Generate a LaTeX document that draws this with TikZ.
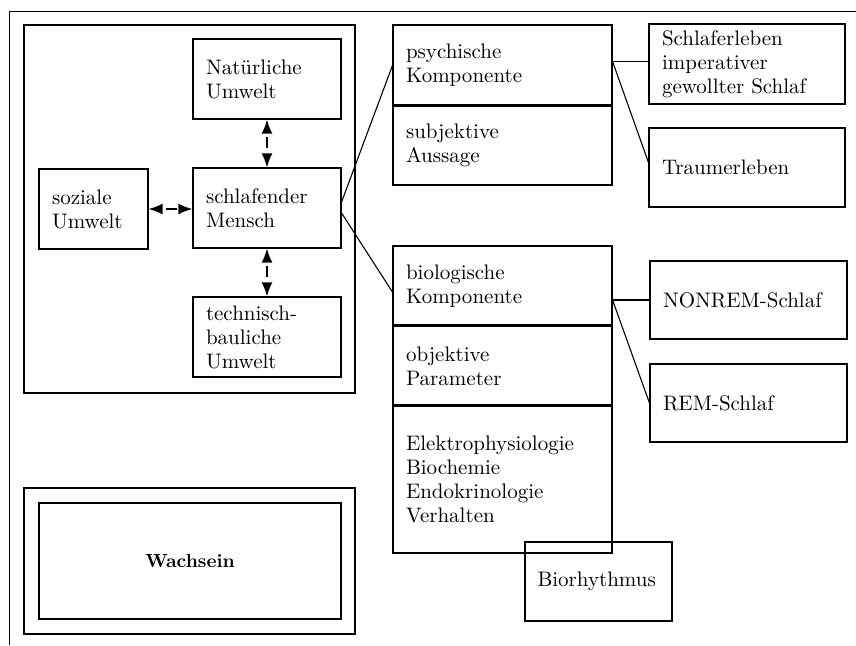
\documentclass[tikz,border=0pt]{standalone}
\usepackage{fontspec}
\setmainfont{lmroman10-regular.otf}[BoldFont=lmroman10-bold.otf,ItalicFont=lmroman10-italic.otf]
\usetikzlibrary{arrows.meta,calc}
\begin{document}
\begin{tikzpicture}[x=1pt,y=-1pt,
  tbox/.style={draw,line width=1.1pt,rectangle,inner xsep=13pt,inner ysep=0pt,align=left,font=\fontsize{21}{24}\selectfont},
  pbox/.style={draw,line width=1.1pt,rectangle,inner sep=0pt},
  conn/.style={line width=1.1pt},
  divline/.style={line width=2.2pt},
  darr/.style={line width=1.8pt,{Latex[length=14pt,width=11pt]}-{Latex[length=14pt,width=11pt]},dash pattern=on 0pt off 4pt on 11pt off 40pt}]
\useasboundingbox (0,0) rectangle (856,645);
% outer frame (top and left only)
\coordinate (fr1) at (856,11.5);
\coordinate (fr2) at (9.5,11.5);
\coordinate (fr3) at (9.5,645);
\draw[conn] (fr1) -- (fr2) -- (fr3);
% environment box
\node[pbox, minimum width=331pt, minimum height=368pt] (env) at (189.5,209) {};
\node[tbox, text width=122pt, minimum height=80pt] (nat) at (267,79) {Natürliche\\Umwelt};
\node[tbox, text width=122pt, minimum height=80pt] (mensch) at (267,208) {schlafender\\Mensch};
\node[tbox, text width=83pt, minimum height=80pt] (sozial) at (93.5,209) {soziale\\Umwelt};
\node[tbox, text width=122pt, minimum height=80pt] (tech) at (267,337) {technisch-\\bauliche\\Umwelt};
% Wachsein
\node[pbox, minimum width=331pt, minimum height=146pt] (wachout) at (189.5,561) {};
\node[pbox, minimum width=302pt, minimum height=116pt, font=\bfseries\fontsize{19}{22}\selectfont] (wach) at (190,561) {Wachsein};
% psychic stack
\node[tbox, text width=193pt, minimum height=81pt] (psych) at (502.5,65.5) {psychische\\Komponente};
\node[tbox, text width=193pt, minimum height=79pt] (subj) at (502.5,145.5) {subjektive\\Aussage};
\node[tbox, text width=170pt, minimum height=80pt] (schlaferl) at (747,64) {Schlaferleben\\imperativer\\gewollter Schlaf};
\node[tbox, text width=170pt, minimum height=79pt] (traum) at (747,167.5) {Traumerleben};
% biological stack
\node[tbox, text width=193pt, minimum height=80pt] (bio) at (502.5,286) {biologische\\Komponente};
\node[tbox, text width=193pt, minimum height=80pt] (obj) at (502.5,366) {objektive\\Parameter};
\node[tbox, text width=193pt, minimum height=147pt] (elek) at (502.5,479.5) {Elektrophysiologie\\Biochemie\\Endokrinologie\\Verhalten};
\node[tbox, text width=171pt, minimum height=78pt] (nonrem) at (748.5,300) {NONREM-Schlaf};
\node[tbox, text width=171pt, minimum height=78pt] (rem) at (748.5,403) {REM-Schlaf};
\node[tbox, text width=122pt, minimum height=79pt, inner xsep=12.5pt] (bior) at (598.5,581.5) {Biorhythmus};
% heavier dividers in the stacks
\draw[divline] (subj.north west) -- (subj.north east);
\draw[divline] (obj.north west) -- (obj.north east);
\draw[divline] (elek.north west) -- (elek.north east);
% connectors
\draw[conn] ($(mensch.east)+(0,-6)$) -- (psych.west);
\draw[conn] ($(mensch.east)+(0,5)$) -- ($(bio.west)+(0,6)$);
\coordinate (pj) at ($(psych.east)+(0,-4)$);
\draw[conn] (pj) -- (pj -| schlaferl.west);
\draw[conn] (pj) -- ($(traum.west)+(0,-5)$);
\coordinate (bj) at (bio.east |- nonrem.west);
\draw[conn] (bj) -- (nonrem.west);
\draw[conn] (bj) -- (rem.west);
% double arrows
\draw[darr] (nat.south) -- (mensch.north);
\draw[darr] (mensch.south) -- (tech.north);
\draw[darr] (sozial.east) -- (sozial.east -| mensch.west);
\end{tikzpicture}
\end{document}
